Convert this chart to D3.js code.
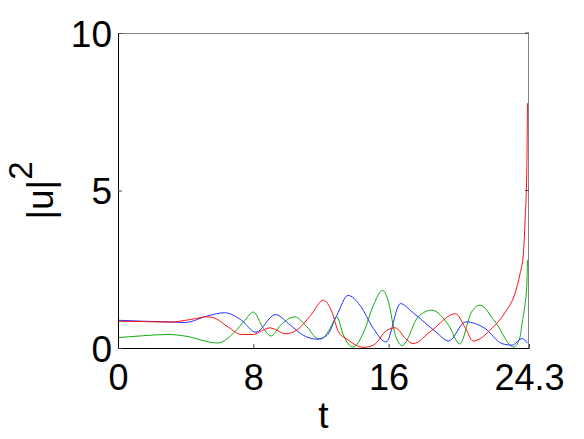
<!DOCTYPE html>
<html>
<head>
<meta charset="utf-8">
<script src="https://cdn.jsdelivr.net/npm/d3@7"></script>
<style>
  body { margin: 0; background: #fff; }
  text { font-family: "Liberation Sans", Arial, sans-serif; fill: #000; }
</style>
</head>
<body>
<div id="chart"></div>
<script>
// Werte: [t, |u|^2]
const redPts = [[0,0.85],[1.5,0.84],[2.96,0.82],[4.35,0.91],[5.2,0.99],[5.6,0.97],[6.5,0.67],[7.3,0.43],[8.0,0.43],
  [8.5,0.55],[9.0,0.64],[9.9,0.45],[10.6,0.58],[11.4,1.04],[12.15,1.52],[12.65,1.14],[13.04,0.51],[13.54,0.28],
  [14.5,0.02],[15.1,0.09],[15.9,0.56],[16.4,0.64],[17.0,0.30],[17.45,0.14],[18.55,0.56],[19.95,1.09],[20.55,0.62],
  [21.0,0.22],[22.1,0.62],[22.9,1.14],[23.5,1.78],[23.77,2.36],[23.97,3.0],[24.07,4.06],[24.17,5.65],[24.21,7.77]];

const bluePts = [[0,0.88],[1.5,0.85],[2.96,0.83],[3.95,0.81],[5.3,1.02],[6.3,1.12],[7.3,0.88],[8.15,0.5],[9.3,1.06],
  [10.2,0.72],[10.97,0.40],[11.76,0.28],[12.35,0.40],[12.94,1.04],[13.6,1.67],[14.3,1.36],[15.1,0.62],[15.85,0.19],
  [16.7,1.41],[17.4,1.14],[18.8,0.51],[19.55,0.22],[20.55,0.83],[21.7,0.62],[22.7,0.14],[23.3,0.09],[23.9,0.30],[24.21,0.15]];

const greenPts = [[0,0.33],[1.5,0.39],[2.96,0.43],[3.95,0.38],[5.9,0.16],[6.9,0.51],[7.5,0.88],[8.0,1.14],[8.6,0.62],
  [9.05,0.38],[9.6,0.72],[10.45,0.99],[11.17,0.67],[11.8,0.30],[12.0,0.29],[12.54,0.62],[12.94,0.99],[13.33,0.40],
  [13.9,0.03],[14.53,0.51],[15.1,1.36],[15.65,1.83],[16.0,1.45],[16.4,0.40],[16.8,0.08],[17.75,0.99],[18.55,1.20],
  [19.55,0.72],[20.2,0.13],[20.9,1.14],[21.4,1.36],[22.3,0.83],[23.4,0.03],[23.77,0.35],[23.9,0.83],[24.07,1.41],
  [24.17,2.0],[24.21,2.79]];

const xTicks = [0, 8, 16, 24.3];
const yTicks = [0, 5, 10];

const series = [
  { pts: greenPts, color: "#11aa11" },
  { pts: bluePts, color: "#2233ff" },
  { pts: redPts, color: "#ff1111" }
];

// Abmessungen
const W = 584, H = 439;
const margin = { top: 33, right: 55, bottom: 91, left: 118 };
const width = W - margin.left - margin.right,
      height = H - margin.top - margin.bottom;

const svg = d3.select("#chart").append("svg")
  .attr("width", W).attr("height", H);

const g = svg.append("g")
  .attr("transform", `translate(${margin.left},${margin.top})`);

const x = d3.scaleLinear().domain([0, 24.3]).range([0, width]);
const y = d3.scaleLinear().domain([0, 10]).range([height, 0]);

// Linien
const line = d3.line()
  .x(d => x(d[0]))
  .y(d => y(d[1]))
  .curve(d3.curveMonotoneX);

g.append("g").attr("clip-path", null)
  .selectAll("path")
  .data(series)
  .enter().append("path")
  .attr("d", d => line(d.pts))
  .attr("fill", "none")
  .attr("stroke", d => d.color)
  .attr("stroke-width", 1);

// Rahmen: oben/rechts grau, unten/links schwarz
g.append("line").attr("x1", 0).attr("x2", width).attr("y1", 0.5).attr("y2", 0.5)
  .attr("stroke", "#808080");
g.append("line").attr("x1", width - 0.5).attr("x2", width - 0.5).attr("y1", 0).attr("y2", height)
  .attr("stroke", "#808080");

// Achsen mit nach innen zeigenden Ticks
const xAxis = g.append("g")
  .attr("transform", `translate(0,${height})`)
  .call(d3.axisBottom(x).tickValues(xTicks).tickSizeInner(-4).tickSizeOuter(0)
    .tickFormat(d => d === 24.3 ? "24.3" : d));
xAxis.select(".domain").attr("stroke", "#000");
xAxis.selectAll(".tick line").attr("stroke", "#444");
xAxis.selectAll("text")
  .attr("y", 42).attr("dy", 0)
  .style("font-size", "36px")
  .style("font-family", "'Liberation Sans', Arial, sans-serif")
  .attr("fill", "#000");

const yAxis = g.append("g")
  .call(d3.axisLeft(y).tickValues(yTicks).tickSizeInner(-4).tickSizeOuter(0));
yAxis.select(".domain").attr("stroke", "#000");
yAxis.selectAll(".tick line").attr("stroke", "#444");
yAxis.selectAll("text")
  .attr("x", -6).attr("dy", "0.36em")
  .style("font-size", "37px")
  .style("font-family", "'Liberation Sans', Arial, sans-serif")
  .attr("fill", "#000");

// rechte Ticks (innen)
g.append("g").selectAll("line")
  .data(yTicks.slice(1))
  .enter().append("line")
  .attr("x1", width - 4).attr("x2", width)
  .attr("y1", d => y(d)).attr("y2", d => y(d))
  .attr("stroke", "#444");

// Achsenbeschriftungen
svg.append("text")
  .attr("x", margin.left + width / 2)
  .attr("y", 428)
  .attr("text-anchor", "middle")
  .style("font-size", "37px")
  .text("t");

const yl = svg.append("text")
  .attr("transform", `translate(53,${margin.top + height / 2}) rotate(-90)`)
  .attr("text-anchor", "middle")
  .style("font-size", "37px");
yl.append("tspan").text("|u|");
yl.append("tspan").attr("dy", -21).style("font-size", "33px").text("2");
</script>
</body>
</html>
